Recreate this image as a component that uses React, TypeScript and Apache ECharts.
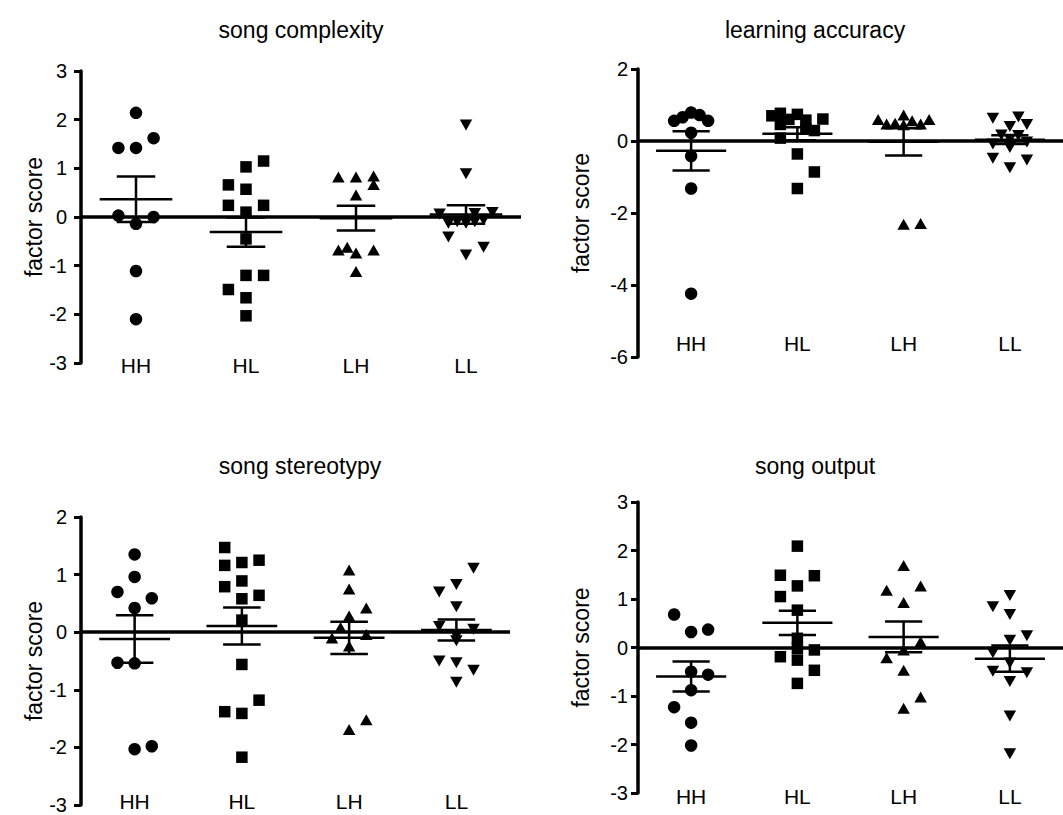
import React, { useEffect, useRef } from 'react';
import * as echarts from 'echarts';

// ---------- data ----------
const groups = ['HH', 'HL', 'LH', 'LL'];
const yTitle = 'factor score';
const panelTitles = ['song complexity', 'learning accuracy', 'song stereotypy', 'song output'];

// each point: [factor score, horizontal slot (half-steps of column scatter)]
const complexityHH = [[2.14, 0], [1.42, -2], [1.42, 0], [1.62, 2], [0.03, -2], [0.0, 2], [-0.14, 0], [-1.11, 0], [-2.10, 0]];
const complexityHL = [[1.15, 2], [1.03, 0], [0.66, -2], [0.57, 0], [0.24, -2], [0.24, 2], [0.10, 0], [-0.45, 0], [-1.20, 0], [-1.20, 2], [-1.49, -2], [-1.66, 0], [-2.03, 0]];
const complexityLH = [[0.82, -2], [0.82, 0], [0.84, 2], [0.67, 2], [0.45, 0], [-0.68, -2], [-0.62, -1], [-0.74, 0], [-0.68, 2], [-1.12, 0]];
const complexityLL = [[1.89, 0], [0.89, 0], [0.06, -3], [0.07, 1], [0.09, 3], [-0.13, -2], [-0.10, -1], [-0.13, 0], [-0.10, 1], [-0.06, 2], [-0.41, -2], [-0.62, 2], [-0.78, 0]];

const accuracyHH = [[0.56, -2], [0.66, -1], [0.79, 0], [0.72, 1], [0.56, 2], [0.23, 0], [-0.42, 0], [-1.32, 0], [-4.24, 0]];
const accuracyHL = [[0.70, -3], [0.77, -2], [0.60, -1], [0.74, 0], [0.58, 1], [0.61, 3], [0.46, -2], [0.29, 2], [0.33, 1], [0.08, -2], [-0.36, 0], [-0.86, 2], [-1.32, 0]];
const accuracyLH = [[0.60, -3], [0.47, -2], [0.49, -1], [0.72, 0], [0.45, 0], [0.56, 1], [0.47, 2], [0.60, 3], [-2.31, 0], [-2.29, 2]];
const accuracyLL = [[0.63, -2], [0.67, 1], [0.40, 0], [0.46, 2], [0.17, -1], [0.15, 1], [0.05, 0], [-0.08, -2], [-0.03, 2], [-0.18, 0], [-0.48, -2], [-0.53, 2], [-0.74, 0]];

const stereotypyHH = [[1.35, 0], [0.96, 0], [0.70, -2], [0.59, 2], [0.42, 0], [-0.53, -2], [-0.54, 0], [-2.03, 0], [-1.98, 2]];
const stereotypyHL = [[1.47, -2], [1.16, -2], [1.21, 0], [1.25, 2], [0.89, 0], [0.79, -2], [0.58, 0], [0.64, 2], [0.21, 0], [-0.56, 0], [-1.38, -2], [-1.41, 0], [-1.18, 2], [-2.17, 0]];
const stereotypyLH = [[1.08, 0], [0.75, 0], [0.42, 2], [0.28, 0], [0.08, -1], [-0.10, -2], [-0.04, 2], [-0.24, 0], [-1.69, 0], [-1.52, 2]];
const stereotypyLL = [[1.11, 2], [0.83, 0], [0.70, -2], [0.44, 0], [0.10, -2], [0.05, 2], [-0.07, 0], [-0.15, 0], [-0.50, -2], [-0.53, 0], [-0.66, 2], [-0.87, 0]];

const outputHH = [[0.68, -2], [0.32, 0], [0.37, 2], [-0.50, 0], [-0.56, 2], [-0.88, 0], [-1.23, -2], [-1.55, 0], [-2.02, 0]];
const outputHL = [[2.09, 0], [1.49, -2], [1.48, 2], [1.27, 0], [1.05, -2], [0.77, 0], [0.19, 0], [-0.02, 0], [-0.05, 2], [-0.19, -2], [-0.26, 0], [-0.47, 2], [-0.74, 0]];
const outputLH = [[1.69, 0], [1.18, -2], [1.27, 2], [0.93, 0], [0.12, 2], [-0.05, 0], [-0.21, -2], [-0.47, 0], [-1.02, 2], [-1.25, 0]];
const outputLL = [[1.07, 0], [0.84, -2], [0.68, 0], [0.24, 2], [0.15, 0], [-0.11, -2], [-0.32, 0], [-0.49, -2], [-0.52, 2], [-0.70, 0], [-1.41, 0], [-2.19, 0]];

const panelData = [
  [complexityHH, complexityHL, complexityLH, complexityLL],
  [accuracyHH, accuracyHL, accuracyLH, accuracyLL],
  [stereotypyHH, stereotypyHL, stereotypyLH, stereotypyLL],
  [outputHH, outputHL, outputLH, outputLL],
];

const yMins = [-3, -6, -3, -3];
const yMaxs = [3, 2, 2, 3];
const yIntervals = [1, 2, 1, 1];

// ---------- layout / style ----------
const FONT = '"Liberation Sans", Arial, Helvetica, sans-serif';
const SLOT = 0.08;
const layouts = [
  { left: 81, top: 71, width: 440, height: 292, titleX: 301, titleY: 30, catMargin: 2, tickMargin: 14, nameGap: 30 },
  { left: 638, top: 69, width: 430, height: 288, titleX: 815, titleY: 30, catMargin: -14, tickMargin: 10, nameGap: 46 },
  { left: 81, top: 517, width: 429, height: 288, titleX: 300, titleY: 466, catMargin: -4, tickMargin: 14, nameGap: 30 },
  { left: 638, top: 502, width: 434, height: 291, titleX: 815, titleY: 466, catMargin: 3, tickMargin: 10, nameGap: 46 },
];
const symbols = ['circle', 'rect', 'triangle', 'triangle'];
const symbolRotates = [0, 0, 0, 180];
const symbolSizes: any[] = [12.5, 11.5, [12.5, 11], [12.5, 11]];

function meanSem(vals: number[]) {
  const n = vals.length;
  const m = vals.reduce((a, b) => a + b, 0) / n;
  const sd = Math.sqrt(vals.reduce((a, b) => a + (b - m) * (b - m), 0) / (n - 1));
  const sem = sd / Math.sqrt(n);
  return [m, m - sem, m + sem];
}

function buildOption() {
  const grid: any[] = [];
  const xAxis: any[] = [];
  const yAxis: any[] = [];
  const title: any[] = [];
  const series: any[] = [];

  panelData.forEach((panel, pi) => {
    const L = layouts[pi];
    grid.push({ left: L.left, top: L.top, width: L.width, height: L.height, containLabel: false });
    title.push({
      text: panelTitles[pi],
      left: L.titleX,
      top: L.titleY,
      padding: 0,
      textAlign: 'center',
      textVerticalAlign: 'middle',
      textStyle: { fontSize: 23, fontWeight: 'normal', color: '#000', fontFamily: FONT },
    });
    xAxis.push({
      gridIndex: pi,
      type: 'value',
      min: 0.5,
      max: 4.5,
      position: 'bottom',
      axisLine: { show: false },
      axisTick: { show: false },
      splitLine: { show: false },
      axisLabel: {
        customValues: [1, 2, 3, 4],
        formatter: (v: number) => groups[Math.round(v) - 1] || '',
        margin: L.catMargin,
        verticalAlign: 'middle',
        fontSize: 21,
        color: '#000',
        fontFamily: FONT,
      },
    });
    yAxis.push({
      gridIndex: pi,
      type: 'value',
      min: yMins[pi],
      max: yMaxs[pi],
      interval: yIntervals[pi],
      axisLine: { show: true, onZero: false, lineStyle: { color: '#000', width: 3.5 } },
      axisTick: { show: true, length: 7, lineStyle: { color: '#000', width: 3 } },
      splitLine: { show: false },
      axisLabel: { margin: L.tickMargin, fontSize: 20, color: '#000', fontFamily: FONT },
      name: yTitle,
      nameLocation: 'middle',
      nameGap: L.nameGap,
      nameTextStyle: { fontSize: 23, color: '#000', fontFamily: FONT },
    });

    panel.forEach((pts, gi) => {
      series.push({
        type: 'scatter',
        xAxisIndex: pi,
        yAxisIndex: pi,
        symbol: symbols[gi],
        symbolRotate: symbolRotates[gi],
        symbolSize: symbolSizes[gi],
        itemStyle: { color: '#000', opacity: 1 },
        data: pts.map(([v, s]) => [gi + 1 + s * SLOT, v]),
        z: 3,
        markLine:
          gi === 0
            ? {
                silent: true,
                symbol: ['none', 'none'],
                label: { show: false },
                lineStyle: { color: '#000', width: 3.5, type: 'solid', opacity: 1 },
                data: [{ yAxis: 0 }],
                z: 4,
              }
            : undefined,
      });
    });

    const stats = panel.map((pts, gi) => [gi + 1, ...meanSem(pts.map((p) => p[0]))]);
    series.push({
      type: 'custom',
      xAxisIndex: pi,
      yAxisIndex: pi,
      z: 5,
      data: stats,
      renderItem: (params: any, api: any) => {
        const x = api.value(0);
        const pm = api.coord([x, api.value(1)]);
        const plo = api.coord([x, api.value(2)]);
        const phi = api.coord([x, api.value(3)]);
        const unit = api.size([1, 0])[0];
        const mh = 0.33 * unit;
        const ch = 0.175 * unit;
        const style = { stroke: '#000', lineWidth: 2.5 };
        return {
          type: 'group',
          children: [
            { type: 'line', shape: { x1: pm[0] - mh, y1: pm[1], x2: pm[0] + mh, y2: pm[1] }, style },
            { type: 'line', shape: { x1: plo[0], y1: plo[1], x2: phi[0], y2: phi[1] }, style },
            { type: 'line', shape: { x1: plo[0] - ch, y1: plo[1], x2: plo[0] + ch, y2: plo[1] }, style },
            { type: 'line', shape: { x1: phi[0] - ch, y1: phi[1], x2: phi[0] + ch, y2: phi[1] }, style },
          ],
        };
      },
    });
  });

  return {
    animation: false,
    backgroundColor: '#fff',
    title,
    grid,
    xAxis,
    yAxis,
    series,
  };
}

export default function App() {
  const ref = useRef<HTMLDivElement>(null);
  useEffect(() => {
    if (!ref.current) return;
    const chart = echarts.init(ref.current, undefined, { renderer: 'svg' });
    chart.setOption(buildOption() as any);
    return () => chart.dispose();
  }, []);
  return (
    <div
      ref={ref}
      style={{ position: 'absolute', left: 0, top: 0, width: 1063, height: 815, background: '#fff' }}
    />
  );
}
